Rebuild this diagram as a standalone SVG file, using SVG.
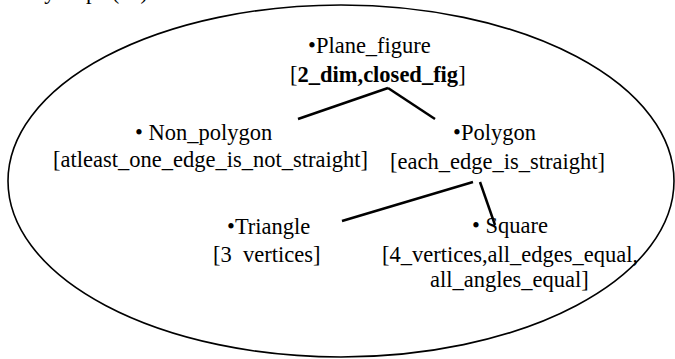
<svg xmlns="http://www.w3.org/2000/svg" width="675" height="359" viewBox="0 0 675 359">
<style>
text{font-family:"Liberation Serif","Times New Roman",serif;font-size:22.5px;fill:#000}
.b{font-weight:bold}
.edge{stroke:#000;stroke-width:2.5;fill:none;stroke-linecap:butt}
.outline{stroke:#000;stroke-width:1.6;fill:none}
</style>
<rect width="675" height="359" fill="#fff"/>
<text x="33" y="-1">by steps (c4)</text>
<ellipse class="outline" cx="341" cy="181" rx="333" ry="176"/>
<g id="connectors">
<line class="edge" x1="298" y1="119" x2="388" y2="88"/>
<line class="edge" x1="388" y1="88" x2="435" y2="119"/>
<line class="edge" x1="342" y1="221" x2="473" y2="182"/>
<line class="edge" x1="480" y1="182" x2="495" y2="225"/>
</g>
<g id="plane_figure">
<text x="308" y="53">•Plane_figure</text>
<text x="290" y="82">[<tspan class="b">2_dim,closed_fig</tspan>]</text>
</g>
<g id="non_polygon">
<text x="135" y="140">• Non_polygon</text>
<text x="53" y="167">[atleast_one_edge_is_not_straight]</text>
</g>
<g id="polygon">
<text x="453" y="140">•Polygon</text>
<text x="390" y="169">[each_edge_is_straight]</text>
</g>
<g id="triangle">
<text x="227" y="234">•Triangle</text>
<text x="213" y="262" xml:space="preserve">[3  vertices]</text>
</g>
<g id="square">
<text x="472" y="233">• Square</text>
<text x="382" y="262">[4_vertices,all_edges_equal,</text>
<text x="430" y="287">all_angles_equal]</text>
</g>
</svg>
